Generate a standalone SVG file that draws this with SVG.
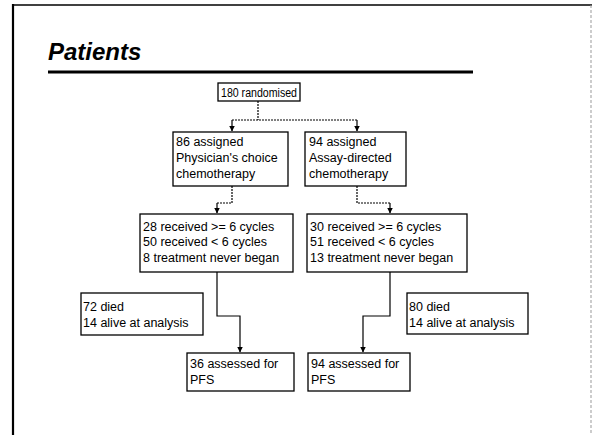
<svg xmlns="http://www.w3.org/2000/svg" width="592" height="435" viewBox="0 0 592 435">
  <style>
    .box { fill: #fff; stroke: #000; stroke-width: 1.3; }
    .txt { font-family: "Liberation Sans", Arial, sans-serif; font-size: 12.5px; fill: #000; }
    .title { font-family: "Liberation Sans", Arial, sans-serif; font-size: 24px; font-weight: bold; font-style: italic; fill: #000; }
    .link { fill: none; stroke: #000; stroke-width: 1.2; }
    .dash { stroke-dasharray: 2 1; }
  </style>
  <defs>
    <marker id="arrow" viewBox="0 0 6 6" refX="5.5" refY="3" markerWidth="6" markerHeight="6" markerUnits="userSpaceOnUse" orient="auto">
      <path d="M0,0 L6,3 L0,6 Z" fill="#000"/>
    </marker>
  </defs>

  <rect width="592" height="435" fill="#fff"/>

  <!-- slide frame -->
  <g id="frame">
    <line x1="13" y1="5" x2="592" y2="5" stroke="#000" stroke-width="1.5"/>
    <line x1="13" y1="4" x2="13" y2="435" stroke="#000" stroke-width="2.2"/>
    <line x1="591" y1="5" x2="591" y2="435" stroke="#999" stroke-width="1" stroke-dasharray="3 2"/>
  </g>

  <!-- heading -->
  <g id="heading">
    <text class="title" x="48" y="60">Patients</text>
    <line x1="48" y1="72" x2="473" y2="72" stroke="#000" stroke-width="3"/>
  </g>

  <!-- connectors -->
  <g id="connectors">
    <path class="link dash" d="M258,101 V120"/>
    <path class="link dash" d="M232,120 H357"/>
    <path class="link" d="M232,120 V131" marker-end="url(#arrow)"/>
    <path class="link" d="M357,120 V131" marker-end="url(#arrow)"/>

    <path class="link dash" d="M232,186 V203 H217"/>
    <path class="link" d="M217,203 V213" marker-end="url(#arrow)"/>
    <path class="link dash" d="M357,186 V203 H390"/>
    <path class="link" d="M390,203 V213" marker-end="url(#arrow)"/>

    <path class="link" d="M217,272 V316 H240 V352" marker-end="url(#arrow)"/>
    <path class="link" d="M390,272 V316 H363 V352" marker-end="url(#arrow)"/>
  </g>

  <g id="randomised">
    <rect class="box" x="218" y="83" width="82" height="18"/>
    <text class="txt" x="221" y="96.5" textLength="76" lengthAdjust="spacingAndGlyphs">180 randomised</text>
  </g>

  <g id="physician-arm">
    <rect class="box" x="173" y="132" width="115" height="54"/>
    <text class="txt" x="176" y="146">86 assigned</text>
    <text class="txt" x="176" y="162">Physician's choice</text>
    <text class="txt" x="176" y="178">chemotherapy</text>
  </g>

  <g id="assay-arm">
    <rect class="box" x="305" y="132" width="101" height="54"/>
    <text class="txt" x="309" y="146">94 assigned</text>
    <text class="txt" x="309" y="162">Assay-directed</text>
    <text class="txt" x="309" y="178">chemotherapy</text>
  </g>

  <g id="physician-cycles">
    <rect class="box" x="140" y="214" width="153" height="58"/>
    <text class="txt" x="143" y="231">28 received &gt;= 6 cycles</text>
    <text class="txt" x="143" y="246">50 received &lt; 6 cycles</text>
    <text class="txt" x="143" y="262">8 treatment never began</text>
  </g>

  <g id="assay-cycles">
    <rect class="box" x="307" y="214" width="160" height="58"/>
    <text class="txt" x="310" y="231">30 received &gt;= 6 cycles</text>
    <text class="txt" x="310" y="246">51 received &lt; 6 cycles</text>
    <text class="txt" x="310" y="262">13 treatment never began</text>
  </g>

  <g id="physician-status">
    <rect class="box" x="81" y="293" width="122" height="42"/>
    <text class="txt" x="83" y="311">72 died</text>
    <text class="txt" x="83" y="327">14 alive at analysis</text>
  </g>

  <g id="assay-status">
    <rect class="box" x="407" y="293" width="121" height="41"/>
    <text class="txt" x="409" y="311">80 died</text>
    <text class="txt" x="409" y="327">14 alive at analysis</text>
  </g>

  <g id="physician-pfs">
    <rect class="box" x="187" y="353" width="107" height="38"/>
    <text class="txt" x="190" y="368">36 assessed for</text>
    <text class="txt" x="190" y="384">PFS</text>
  </g>

  <g id="assay-pfs">
    <rect class="box" x="308" y="353" width="102" height="38"/>
    <text class="txt" x="311" y="368">94 assessed for</text>
    <text class="txt" x="311" y="384">PFS</text>
  </g>
</svg>
